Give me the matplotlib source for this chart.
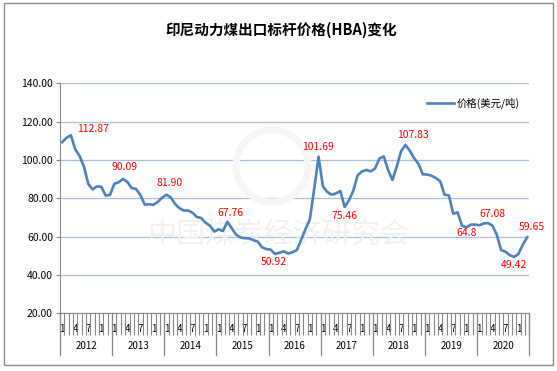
import matplotlib
matplotlib.use("Agg")
import matplotlib.pyplot as plt
import matplotlib.transforms as mtransforms
from matplotlib.patches import Rectangle, Circle

plt.rcParams['font.family'] = ['Noto Sans CJK SC', 'DejaVu Sans']

# HBA monthly price, USD/ton, Jan 2012 - Dec 2020
years = ['2012', '2013', '2014', '2015', '2016', '2017', '2018', '2019', '2020']
prices = [
    109.29, 111.58, 112.87, 105.61, 102.12, 96.65, 87.56, 84.65, 86.21, 86.04, 81.44, 81.75,
    87.55, 88.35, 90.09, 88.56, 85.33, 84.87, 81.69, 76.70, 76.89, 76.61, 78.13, 80.31,
    81.90, 80.44, 77.01, 74.81, 73.60, 73.64, 72.45, 70.29, 69.69, 67.26, 65.70, 62.65,
    63.84, 62.92, 67.76, 64.48, 61.08, 59.59, 59.16, 59.14, 58.21, 57.39, 54.43, 53.51,
    53.20, 50.92, 51.62, 52.32, 51.20, 51.87, 53.00, 58.37, 63.93, 69.07, 84.89, 101.69,
    86.23, 83.32, 81.90, 82.51, 83.81, 75.46, 78.95, 83.97, 92.03, 93.99, 94.80, 94.04,
    95.54, 100.69, 101.86, 94.75, 89.53, 96.61, 104.65, 107.83, 104.81, 100.89, 97.90, 92.51,
    92.41, 91.80, 90.57, 88.85, 81.86, 81.48, 71.92, 72.67, 65.79, 64.80, 66.27, 66.30,
    65.93, 66.89, 67.08, 65.77, 61.11, 52.98, 52.16, 50.34, 49.42, 51.00, 55.71, 59.65,
]
month_labels = ['1', '4', '7', '1']  # Jan, Apr, Jul, Oct ("10" clipped in source)
label_points = [2, 14, 24, 38, 49, 59, 65, 79, 93, 98, 104, 107]
label_texts = ['112.87', '90.09', '81.90', '67.76', '50.92', '101.69',
               '75.46', '107.83', '64.8', '67.08', '49.42', '59.65']
label_offsets = [(22, 6), (2, 12), (3, 12), (3, 9), (-1, -8), (-1, 10),
                 (0, -9), (7, 10), (0, -6), (4, 9), (0, -8), (5, 10)]

fig = plt.figure(figsize=(5.57, 3.71), dpi=100)
ax = fig.add_axes([0.1077, 0.1555, 0.8426, 0.62])

# outer chart border
fig.patches.append(Rectangle((4 / 557, 6 / 371), 548.5 / 557, 362 / 371,
                             transform=fig.transFigure, fill=False,
                             edgecolor='#8c8c8c', linewidth=1.0))

# faint watermark, behind the line
ax.text(0.5, 0.365, '中国煤炭经济研究会', transform=fig.transFigure, ha='center',
        va='center', fontsize=21, color='#f1f1f1', zorder=1)
ax.add_patch(Circle((272, 371 - 166), 36, transform=mtransforms.IdentityTransform(),
                    fill=False, edgecolor='#f5f5f5', linewidth=5, zorder=1,
                    clip_on=False))

x = list(range(len(prices)))
ax.plot(x, prices, color='#4f81bd', linewidth=1.9, label='价格(美元/吨)',
        solid_joinstyle='round', zorder=3)

for idx, txt, off in zip(label_points, label_texts, label_offsets):
    ax.annotate(txt, (idx, prices[idx]), xytext=off, textcoords='offset pixels',
                ha='center', va='center', fontsize=7.5, color='#ff0000', zorder=4)

ax.set_xlim(-0.5, len(prices) - 0.5)
ax.set_ylim(20, 140)
ax.set_yticks(range(20, 141, 20))
ax.set_yticklabels(['%.2f' % v for v in range(20, 141, 20)], fontsize=7.5)
ax.grid(axis='y', color='#a9bfe0', linewidth=0.9)
ax.set_axisbelow(True)
ax.tick_params(axis='y', length=3, color='#868686', pad=2)

for s in ['top', 'right']:
    ax.spines[s].set_visible(False)
for s in ['left', 'bottom']:
    ax.spines[s].set_color('#868686')

# month ticks and labels
major = [i * 12 + m for i in range(len(years)) for m in (0, 3, 6, 9)]
ax.set_xticks(major)
ax.set_xticklabels(month_labels * len(years), fontsize=7)
ax.set_xticks([i - 0.5 for i in range(len(prices) + 1)], minor=True)
ax.tick_params(axis='x', which='major', length=0, pad=8)
ax.tick_params(axis='x', which='minor', length=16, color='#868686', width=0.8)

# year dividers and labels
trans = mtransforms.blended_transform_factory(ax.transData, ax.transAxes)
for i in range(len(years) + 1):
    ax.plot([i * 12 - 0.5, i * 12 - 0.5], [0, -0.183], transform=trans,
            color='#868686', linewidth=0.9, clip_on=False)
for i, yr in enumerate(years):
    ax.text(i * 12 + 5.5, -0.143, yr, transform=trans, ha='center', va='center',
            fontsize=7)

ax.legend(loc='upper right', bbox_to_anchor=(1.0, 0.98), frameon=False,
          fontsize=7.5, handlelength=2.6, handletextpad=0.3)

fig.text(0.505, 0.92, '印尼动力煤出口标杆价格(HBA)变化', ha='center', va='center',
         fontsize=10.5, fontweight='bold')

fig.savefig('out.png', dpi=100)
